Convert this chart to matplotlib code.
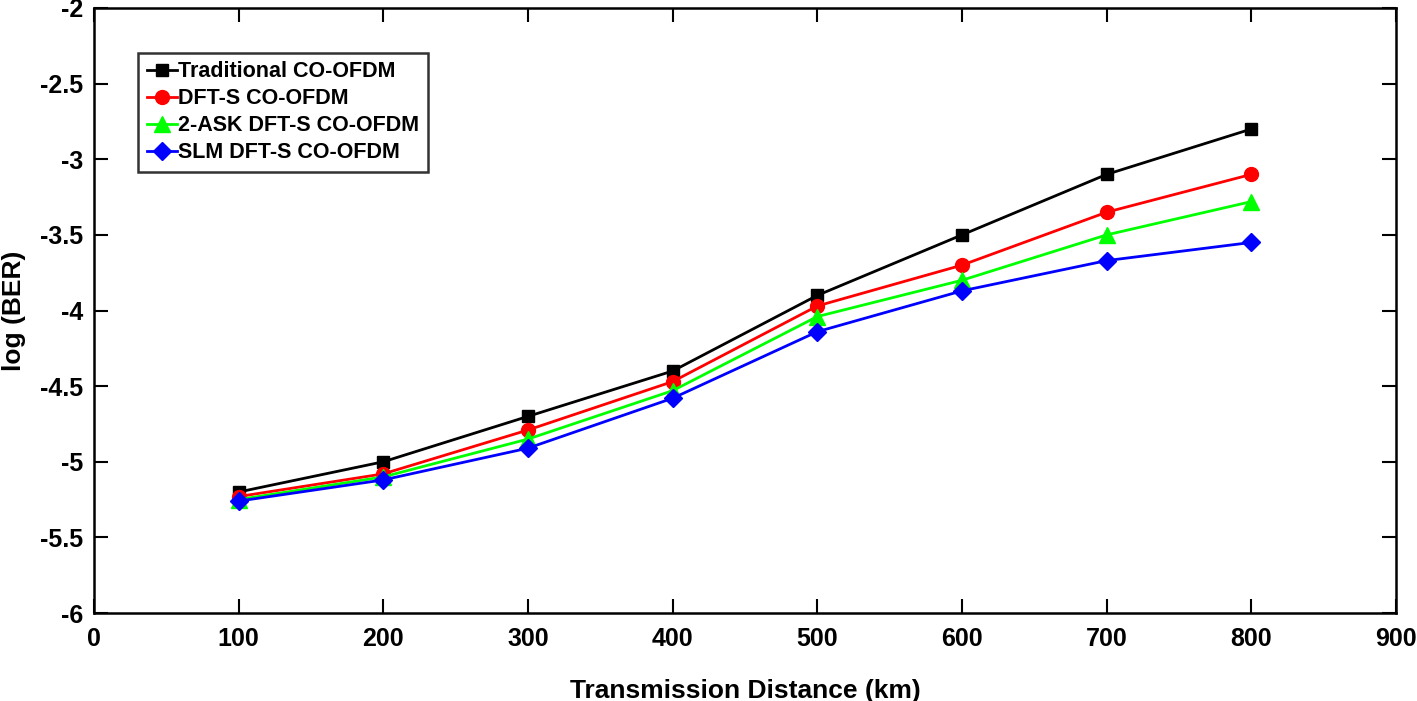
import matplotlib
matplotlib.use("Agg")
import matplotlib.pyplot as plt

plt.rcParams['font.family'] = ['Liberation Sans', 'DejaVu Sans']
plt.rcParams['font.weight'] = 'bold'

distance = [100, 200, 300, 400, 500, 600, 700, 800]
ber_traditional = [-5.20, -5.00, -4.70, -4.40, -3.90, -3.50, -3.10, -2.80]
ber_dfts = [-5.23, -5.08, -4.79, -4.47, -3.97, -3.70, -3.35, -3.10]
ber_2ask = [-5.25, -5.10, -4.85, -4.53, -4.04, -3.80, -3.50, -3.28]
ber_slm = [-5.26, -5.12, -4.91, -4.58, -4.14, -3.87, -3.67, -3.55]

labels = ['Traditional CO-OFDM', 'DFT-S CO-OFDM', '2-ASK DFT-S CO-OFDM', 'SLM DFT-S CO-OFDM']

fig = plt.figure(figsize=(14.17, 7.01), dpi=100)
ax = fig.add_axes([0.0663, 0.1255, 0.9189, 0.8631])

ax.plot(distance, ber_traditional, color='black', marker='s', markersize=9, lw=2, label=labels[0])
ax.plot(distance, ber_dfts, color='red', marker='o', markersize=10, lw=2, label=labels[1])
ax.plot(distance, ber_2ask, color='#00ff00', marker='^', markersize=11, lw=2, label=labels[2])
ax.plot(distance, ber_slm, color='blue', marker='D', markersize=9, lw=2, label=labels[3])

ax.set_xlim(0, 900)
ax.set_ylim(-6, -2)
ax.set_xticks(range(0, 901, 100))
ax.set_yticks([-6, -5.5, -5, -4.5, -4, -3.5, -3, -2.5, -2])
ax.set_yticklabels(['-6', '-5.5', '-5', '-4.5', '-4', '-3.5', '-3', '-2.5', '-2'])
ax.tick_params(direction='in', top=True, right=True, length=10, width=1.5, labelsize=18)
ax.tick_params(axis='x', pad=10)
ax.tick_params(axis='y', pad=8)
for s in ax.spines.values():
    s.set_linewidth(1.8)

ax.set_xlabel('Transmission Distance (km)', fontsize=19, fontweight='bold', labelpad=20)
ax.set_ylabel('log (BER)', fontsize=19, fontweight='bold')
ax.yaxis.set_label_coords(-0.052, 0.5)

leg = ax.legend(loc='upper left', bbox_to_anchor=(0.034, 0.926), fontsize=15.5, frameon=True,
                fancybox=False, edgecolor='black', handlelength=1.4, handletextpad=0.05,
                borderpad=0.4, labelspacing=0.28, borderaxespad=0)
leg.get_frame().set_linewidth(1.8)

fig.savefig('out.png', dpi=100)
